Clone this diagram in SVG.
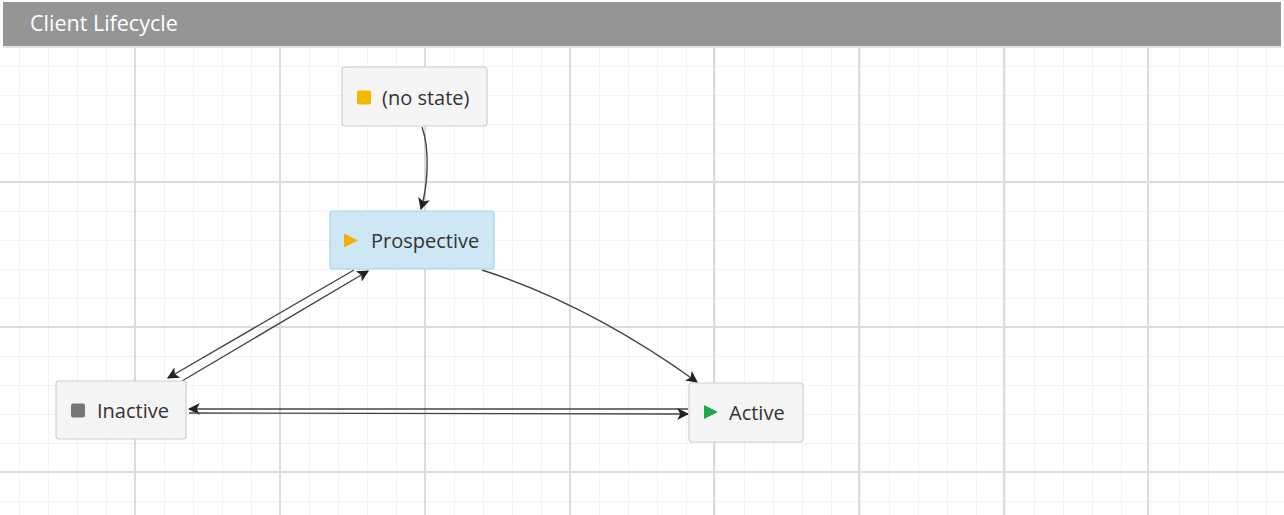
<svg xmlns="http://www.w3.org/2000/svg" width="1284" height="515" viewBox="0 0 1284 515">
  <defs>
    <pattern id="minor" x="19" y="8" width="29" height="29" patternUnits="userSpaceOnUse">
      <path d="M0 0 V29 M0 0 H29" fill="none" stroke="#efefef" stroke-width="1.5"/>
    </pattern>
    <marker id="arr" viewBox="0 0 10 10" refX="9" refY="5" markerWidth="12" markerHeight="12" markerUnits="userSpaceOnUse" orient="auto">
      <path d="M0 0 L10 5 L0 10 L2.5 5 Z" fill="#222"/>
    </marker>
  </defs>
  <style>
    .node { stroke-width: 1.2; }
    .plain { fill: #f5f5f5; stroke: #cfcfcf; }
    .sel { fill: #cde7f5; stroke: #a9d2e8; }
    .lbl { font-family: "Open Sans", "Noto Sans", sans-serif; font-size: 20px; fill: #333; }
    .edge { fill: none; stroke: #444; stroke-width: 1.4; marker-end: url(#arr); }
    .major { stroke: #dcdcdc; stroke-width: 2; }
  </style>
  <rect width="1284" height="515" fill="#ffffff"/>
  <rect x="0" y="47" width="1284" height="468" fill="url(#minor)"/>
  <g class="major">
    <path d="M135 47 V515 M280 47 V515 M425 47 V515 M570 47 V515 M714 47 V515 M859 47 V515 M1004 47 V515 M1148 47 V515"/>
    <path d="M0 182 H1284 M0 327 H1284 M0 472 H1284"/>
  </g>
  <g id="header">
    <rect x="3" y="2" width="1278" height="45" fill="#959595"/>
    <rect x="3" y="46" width="1278" height="2" fill="#e4e4e4"/>
    <text x="30" y="31" font-family="'Open Sans', 'Noto Sans', sans-serif" font-size="21.5" fill="#ffffff">Client Lifecycle</text>
  </g>
  <g id="connectors">
    <path class="edge" d="M422 127 C430 150 428 185 421 209"/>
    <path class="edge" d="M354 270 L168 378"/>
    <path class="edge" d="M182 381 L368 271"/>
    <path class="edge" d="M482 270 Q590 305 697 382"/>
    <path class="edge" d="M688 409 L189 409"/>
    <path class="edge" d="M189 413 L688 414"/>
  </g>
  <g id="node-nostate">
    <rect class="node plain" x="342" y="67" width="145" height="59" rx="3"/>
    <rect x="357" y="90.5" width="14" height="14" rx="2" fill="#f5b800"/>
    <text class="lbl" x="382" y="104.5">(no state)</text>
  </g>
  <g id="node-prospective">
    <rect class="node sel" x="330" y="211" width="164" height="58" rx="3"/>
    <path d="M344 233.5 L358 240.5 L344 247.5 Z" fill="#f5b000"/>
    <text class="lbl" x="371" y="247.5">Prospective</text>
  </g>
  <g id="node-inactive">
    <rect class="node plain" x="56" y="381" width="130" height="58" rx="3"/>
    <rect x="71" y="403.5" width="14" height="14" rx="2" fill="#777777"/>
    <text class="lbl" x="97" y="417.5">Inactive</text>
  </g>
  <g id="node-active">
    <rect class="node plain" x="689" y="383" width="114" height="59" rx="3"/>
    <path d="M704 405 L718 412 L704 419 Z" fill="#1ea84a"/>
    <text class="lbl" x="729" y="419.5">Active</text>
  </g>
</svg>
